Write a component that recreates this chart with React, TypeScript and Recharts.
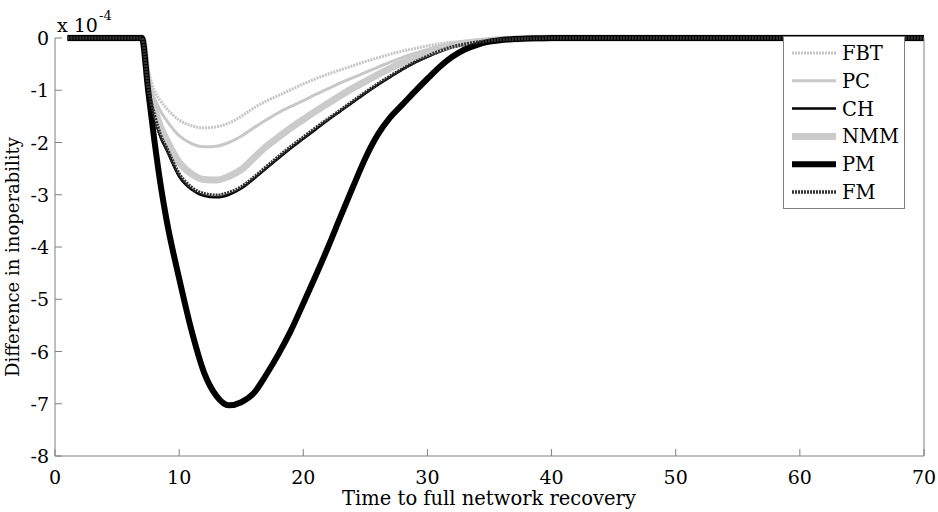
import React from 'react';
import { LineChart, Line, XAxis, YAxis } from 'recharts';

const xs = [1, 2, 3, 4, 5, 6, 7, 7.5, 8, 8.5, 9, 10, 11, 12, 13, 14, 15, 16, 17, 18, 19, 20, 21, 22, 23, 24, 25, 26, 27, 28, 29, 30, 31, 32, 33, 34, 35, 36, 37, 38, 39, 40, 50, 60, 70];

const FBT = [0, 0, 0, 0, 0, 0, 0, -0.6, -1.0, -1.2, -1.35, -1.57, -1.68, -1.72, -1.7, -1.63, -1.5, -1.34, -1.21, -1.1, -0.99, -0.88, -0.78, -0.69, -0.61, -0.53, -0.45, -0.38, -0.31, -0.25, -0.2, -0.15, -0.11, -0.08, -0.06, -0.04, -0.03, -0.02, -0.01, -0.005, 0, 0, 0, 0, 0];
const PC = [0, 0, 0, 0, 0, 0, 0, -0.75, -1.15, -1.4, -1.58, -1.87, -2.02, -2.08, -2.07, -2.0, -1.88, -1.72, -1.57, -1.43, -1.31, -1.2, -1.08, -0.97, -0.86, -0.76, -0.66, -0.56, -0.46, -0.37, -0.29, -0.22, -0.15, -0.1, -0.07, -0.05, -0.03, -0.02, -0.01, -0.005, 0, 0, 0, 0, 0];
const CH = [0, 0, 0, 0, 0, 0, 0, -0.95, -1.5, -1.9, -2.15, -2.65, -2.9, -3.02, -3.05, -3.0, -2.88, -2.7, -2.5, -2.3, -2.11, -1.93, -1.75, -1.57, -1.4, -1.23, -1.06, -0.9, -0.75, -0.6, -0.47, -0.36, -0.26, -0.18, -0.12, -0.08, -0.05, -0.03, -0.02, -0.01, -0.005, 0, 0, 0, 0];
const NMM = [0, 0, 0, 0, 0, 0, 0, -0.85, -1.35, -1.7, -1.95, -2.38, -2.6, -2.71, -2.72, -2.65, -2.52, -2.3, -2.08, -1.9, -1.72, -1.56, -1.4, -1.25, -1.1, -0.96, -0.83, -0.7, -0.58, -0.47, -0.37, -0.28, -0.2, -0.14, -0.1, -0.07, -0.05, -0.03, -0.02, -0.01, -0.005, 0, 0, 0, 0];
const PM = [0, 0, 0, 0, 0, 0, 0, -1.0, -1.95, -2.8, -3.5, -4.6, -5.6, -6.4, -6.85, -7.03, -6.97, -6.8, -6.45, -6.05, -5.6, -5.08, -4.55, -4.0, -3.42, -2.85, -2.3, -1.85, -1.52, -1.27, -1.02, -0.78, -0.55, -0.36, -0.22, -0.13, -0.07, -0.04, -0.02, -0.01, -0.005, 0, 0, 0, 0];
const FM = [0, 0, 0, 0, 0, 0, 0, -0.93, -1.47, -1.86, -2.11, -2.6, -2.86, -2.98, -3.01, -2.96, -2.85, -2.67, -2.47, -2.27, -2.08, -1.9, -1.72, -1.55, -1.38, -1.21, -1.04, -0.88, -0.73, -0.59, -0.46, -0.35, -0.25, -0.17, -0.12, -0.08, -0.05, -0.03, -0.02, -0.01, -0.005, 0, 0, 0, 0];

const xTicks = [0, 10, 20, 30, 40, 50, 60, 70];
const yTicks = [-8, -7, -6, -5, -4, -3, -2, -1, 0];
const xLabel = 'Time to full network recovery';
const yLabel = 'Difference in inoperability';

const series = [
  { key: 'FBT', values: FBT, stroke: '#c6c6c6', width: 3, dash: '2 1' },
  { key: 'PC', values: PC, stroke: '#c8c8c8', width: 3, dash: undefined },
  { key: 'CH', values: CH, stroke: '#000000', width: 2.5, dash: undefined },
  { key: 'NMM', values: NMM, stroke: '#cbcbcb', width: 7, dash: undefined },
  { key: 'PM', values: PM, stroke: '#000000', width: 6, dash: undefined },
  { key: 'FM', values: FM, stroke: '#333333', width: 3.5, dash: '2 1' },
];

const data = xs.map((x, i) => {
  const row: Record<string, number> = { x };
  series.forEach((s) => {
    row[s.key] = s.values[i];
  });
  return row;
});

const FONT = '"DejaVu Serif", serif';
const AXIS = '#808080';
const TICK_LEN = 7;
const X_MARGIN = 16;
const Y_MARGIN = 10;
const TICK_FONT = 19;

const BottomTick = (props: any) => {
  const { x, y, payload } = props;
  const axisY = y - X_MARGIN;
  return (
    <g>
      <line x1={x} x2={x} y1={axisY} y2={axisY - TICK_LEN} stroke={AXIS} />
      <text x={x} y={axisY + 28} textAnchor="middle" fontSize={TICK_FONT} fontFamily={FONT} fill="#000">
        {payload.value}
      </text>
    </g>
  );
};

const TopTick = (props: any) => {
  const { x, y } = props;
  const axisY = y;
  return <line x1={x} x2={x} y1={axisY} y2={axisY + TICK_LEN} stroke={AXIS} />;
};

const LeftTick = (props: any) => {
  const { x, y, payload } = props;
  const axisX = x + Y_MARGIN;
  return (
    <g>
      <line x1={axisX} x2={axisX + TICK_LEN} y1={y} y2={y} stroke={AXIS} />
      <text x={axisX - 6} y={y + 7} textAnchor="end" fontSize={TICK_FONT} fontFamily={FONT} fill="#000">
        {payload.value}
      </text>
    </g>
  );
};

const RightTick = (props: any) => {
  const { x, y } = props;
  const axisX = x;
  return <line x1={axisX} x2={axisX - TICK_LEN} y1={y} y2={y} stroke={AXIS} />;
};

export default function App() {
  const W = 938;
  const H = 512;
  return (
    <div style={{ position: 'absolute', left: 0, top: 0, width: W, height: H, background: '#fff' }}>
      <LineChart width={W} height={H} data={data} margin={{ top: 38, right: 0, bottom: 0, left: 0 }}>
        <XAxis
          dataKey="x"
          type="number"
          domain={[0, 70]}
          ticks={xTicks}
          height={56}
          tickSize={0}
          tickLine={false}
          tickMargin={X_MARGIN}
          stroke={AXIS}
          tick={<BottomTick />}
          interval={0}
        />
        <XAxis
          xAxisId="top"
          orientation="top"
          dataKey="x"
          type="number"
          domain={[0, 70]}
          ticks={xTicks}
          height={0}
          tickSize={0}
          tickLine={false}
          tickMargin={0}
          stroke={AXIS}
          tick={<TopTick />}
          interval={0}
        />
        <YAxis
          type="number"
          domain={[-8, 0]}
          ticks={yTicks}
          width={55}
          tickSize={0}
          tickLine={false}
          tickMargin={Y_MARGIN}
          stroke={AXIS}
          tick={<LeftTick />}
          interval={0}
        />
        <YAxis
          yAxisId="right"
          orientation="right"
          type="number"
          domain={[-8, 0]}
          ticks={yTicks}
          width={14}
          tickSize={0}
          tickLine={false}
          tickMargin={0}
          stroke={AXIS}
          tick={<RightTick />}
          interval={0}
        />
        {series.map((s) => (
          <Line
            key={s.key}
            dataKey={s.key}
            type="monotone"
            stroke={s.stroke}
            strokeWidth={s.width}
            strokeDasharray={s.dash}
            dot={false}
            activeDot={false}
            isAnimationActive={false}
          />
        ))}
      </LineChart>
      <svg
        width={W}
        height={H}
        style={{ position: 'absolute', left: 0, top: 0, pointerEvents: 'none' }}
        fontFamily={FONT}
      >
        <text x={57} y={32} fontSize={19} fill="#000">x 10</text>
        <text x={99} y={20} fontSize={13} fill="#000">-4</text>
        <text x={489} y={505} fontSize={19.5} fill="#000" textAnchor="middle">{xLabel}</text>
        <text
          x={0}
          y={0}
          fontSize={18}
          fill="#000"
          textAnchor="middle"
          transform="translate(19,257) rotate(-90)"
        >
          {yLabel}
        </text>
        <rect x={783.5} y={36.5} width={121} height={172} fill="#fff" stroke={AXIS} strokeWidth={1} />
        {series.map((s, i) => {
          const cy = 53 + i * 27.8;
          return (
            <g key={s.key}>
              <line
                x1={792}
                x2={836}
                y1={cy}
                y2={cy}
                stroke={s.stroke}
                strokeWidth={s.width}
                strokeDasharray={s.dash}
              />
              <text x={842} y={cy + 7} fontSize={19.5} fill="#000">{s.key}</text>
            </g>
          );
        })}
      </svg>
    </div>
  );
}
